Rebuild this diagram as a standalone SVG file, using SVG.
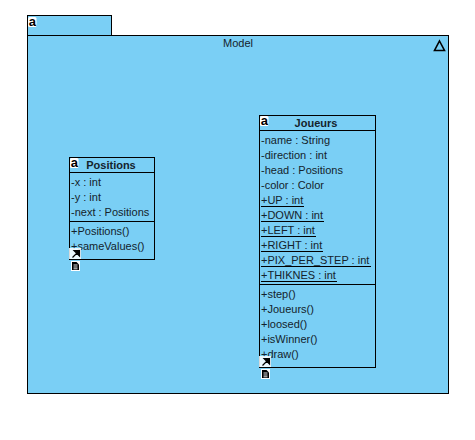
<svg xmlns="http://www.w3.org/2000/svg" width="475" height="440" viewBox="0 0 475 440">
<style>
.s{fill:#7acff5;stroke:#000;stroke-width:1}
.l{fill:none;stroke:#000;stroke-width:1}
.tri{fill:none;stroke:#000;stroke-width:1.6}
.t{font-family:"Liberation Sans",Arial,sans-serif;font-size:11px;fill:#14232c}
.b{font-weight:bold;text-anchor:middle}
.ic{fill:#fff;stroke:none}
.a{font-family:"Liberation Sans",sans-serif;font-size:13px;font-weight:bold;fill:#000}
</style>
<defs>
<g id="aic"><rect class="ic" width="8.5" height="10" rx="1.5"/><text class="a" x="0.8" y="8.5">a</text></g>
<g id="links">
<rect class="ic" x="-1" y="0" width="12" height="11" opacity="0.85"/>
<path d="M2.5 9.5L7 5M4 2.5H9.5V8Z" fill="#000" stroke="#000" stroke-width="1.2"/>
<rect class="ic" x="1" y="13" width="9" height="10"/>
<path d="M2 14H6.5L9 16.5V22H2Z" fill="#000"/>
<path d="M3.5 17H7.5M3.5 19H7.5M3.5 20.8H7.5" stroke="#fff" stroke-width="0.9"/>
</g>
</defs>
<g id="model">
<rect class="s" x="27.5" y="15.5" width="84" height="20"/>
<rect class="s" x="27.5" y="35.5" width="421" height="358"/>
<use href="#aic" x="28" y="17"/>
<text class="t" x="238" y="47" text-anchor="middle">Model</text>
<path class="tri" d="M439.5 41L444.5 50.5H434.5Z"/>
</g>
<g id="positions">
<rect class="s" x="69.5" y="157.5" width="85" height="102"/>
<path class="l" d="M69.5 172.5H154.5M69.5 221.5H154.5"/>
<use href="#aic" x="70" y="158"/>
<text class="t b" x="111" y="169">Positions</text>
<text class="t" x="71" y="186">-x : int</text>
<text class="t" x="71" y="201">-y : int</text>
<text class="t" x="71" y="216">-next : Positions</text>
<text class="t" x="71" y="235">+Positions()</text>
<text class="t" x="71" y="250">+sameValues()</text>
<use href="#links" x="70" y="248"/>
</g>
<g id="joueurs">
<rect class="s" x="259.5" y="115.5" width="116" height="252"/>
<path class="l" d="M259.5 130.5H375.5M259.5 284.5H375.5"/>
<use href="#aic" x="260" y="116"/>
<text class="t b" x="316" y="127">Joueurs</text>
<text class="t" x="261" y="144">-name : String</text>
<text class="t" x="261" y="159">-direction : int</text>
<text class="t" x="261" y="174">-head : Positions</text>
<text class="t" x="261" y="189">-color : Color</text>
<text class="t" x="261" y="204">+UP : int</text>
<text class="t" x="261" y="219">+DOWN : int</text>
<text class="t" x="261" y="234">+LEFT : int</text>
<text class="t" x="261" y="249">+RIGHT : int</text>
<text class="t" x="261" y="264">+PIX_PER_STEP : int</text>
<text class="t" x="261" y="279">+THIKNES : int</text>
<path class="l" d="M261 206.5H304M261 221.5H324M261 236.5H316M261 251.5H323M261 266.5H371M261 281.5H337"/>
<text class="t" x="261" y="298">+step()</text>
<text class="t" x="261" y="313">+Joueurs()</text>
<text class="t" x="261" y="328">+loosed()</text>
<text class="t" x="261" y="343">+isWinner()</text>
<text class="t" x="261" y="358">+draw()</text>
<use href="#links" x="260" y="356"/>
</g>
<g id="connectors"/>
</svg>
